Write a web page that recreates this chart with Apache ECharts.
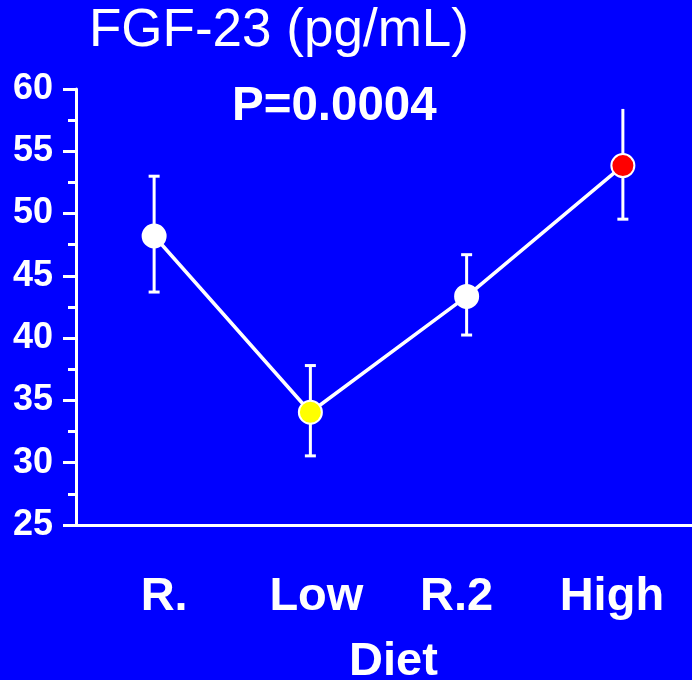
<!DOCTYPE html>
<html>
<head>
<meta charset="utf-8">
<script src="https://cdn.jsdelivr.net/npm/echarts@6/dist/echarts.min.js"></script>
<style>
  html, body { margin: 0; padding: 0; background: #0000ff; }
  #chart { width: 692px; height: 680px; }
</style>
</head>
<body>
<div id="chart"></div>
<script>
// Diet groups and FGF-23 means with upper/lower error limits (pg/mL)
const categories = ['R.', 'Low', 'R.2', 'High'];
const means = [48.2, 34.05, 43.35, 53.85];
const upper = [53.0, 37.8, 46.7, 58.4];
const lower = [43.7, 30.55, 40.25, 49.55];
const yTicks = [25, 30, 35, 40, 45, 50, 55, 60];

// marker fill per group, and whether the upper whisker gets a cap
const markerColors = ['#ffffff', '#ffff00', '#ffffff', '#ff0000'];
const upperCap = [true, true, true, false];
// horizontal nudges of the category labels (px)
const labelShift = [10, 6, -10, -11];

const FONT = '"Liberation Sans", Arial, Helvetica, sans-serif';

const rich = {};
labelShift.forEach((s, i) => {
  rich['c' + i] = {
    color: '#ffffff', fontFamily: FONT, fontWeight: 'bold', fontSize: 47,
    padding: s >= 0 ? [0, 0, 0, 2 * s] : [0, -2 * s, 0, 0]
  };
});

const chart = echarts.init(document.getElementById('chart'));
chart.setOption({
  backgroundColor: '#0000ff',
  animation: false,
  title: [
    {
      text: 'FGF-23 (pg/mL)', left: 89, top: 5, padding: 0,
      textStyle: { color: '#ffffff', fontFamily: FONT, fontWeight: 'normal', fontSize: 53 }
    },
    {
      text: 'P=0.0004', left: 232, top: 83, padding: 0,
      textStyle: { color: '#ffffff', fontFamily: FONT, fontWeight: 'bold', fontSize: 47.5 }
    }
  ],
  grid: { left: 76, top: 89, width: 625, height: 436, containLabel: false, outerBoundsMode: 'none' },
  xAxis: {
    type: 'category',
    data: categories,
    boundaryGap: true,
    name: 'Diet',
    nameLocation: 'middle',
    nameGap: 114,
    nameTextStyle: { color: '#ffffff', fontFamily: FONT, fontWeight: 'bold', fontSize: 47, padding: [0, 0, 0, 10] },
    axisLine: { lineStyle: { color: '#ffffff', width: 3 } },
    axisTick: { alignWithLabel: true, length: 5, lineStyle: { color: '#ffffff', width: 3 } },
    axisLabel: {
      margin: 49,
      formatter: (v, i) => '{c' + i + '|' + v + '}',
      rich: rich
    },
    splitLine: { show: false }
  },
  yAxis: {
    type: 'value',
    min: yTicks[0],
    max: yTicks[yTicks.length - 1],
    interval: yTicks[1] - yTicks[0],
    axisLine: { show: true, lineStyle: { color: '#ffffff', width: 3 } },
    axisTick: { show: true, length: 13, lineStyle: { color: '#ffffff', width: 3 } },
    minorTick: { show: true, splitNumber: 2, length: 8, lineStyle: { color: '#ffffff', width: 3 } },
    axisLabel: { color: '#ffffff', fontFamily: FONT, fontWeight: 'bold', fontSize: 36, margin: 23 },
    splitLine: { show: false },
    minorSplitLine: { show: false }
  },
  series: [
    {
      // error bars
      type: 'custom',
      z: 1,
      data: categories.map((c, i) => [i, lower[i], upper[i], upperCap[i] ? 1 : 0]),
      renderItem: function (params, api) {
        const i = api.value(0);
        const lo = api.coord([i, api.value(1)]);
        const hi = api.coord([i, api.value(2)]);
        const half = 5.5;
        const style = { stroke: '#ffffff', lineWidth: 3 };
        const children = [
          { type: 'line', shape: { x1: lo[0], y1: lo[1], x2: hi[0], y2: hi[1] }, style: style },
          { type: 'line', shape: { x1: lo[0] - half, y1: lo[1], x2: lo[0] + half, y2: lo[1] }, style: style }
        ];
        if (api.value(3)) {
          children.push({ type: 'line', shape: { x1: hi[0] - half, y1: hi[1], x2: hi[0] + half, y2: hi[1] }, style: style });
        }
        return { type: 'group', children: children };
      }
    },
    {
      type: 'line',
      z: 3,
      data: means.map((v, i) => ({ value: v, itemStyle: { color: markerColors[i] } })),
      symbol: 'circle',
      symbolSize: 23,
      lineStyle: { color: '#ffffff', width: 3.5 },
      itemStyle: { borderColor: '#ffffff', borderWidth: 2, opacity: 1 }
    }
  ]
});
</script>
</body>
</html>
